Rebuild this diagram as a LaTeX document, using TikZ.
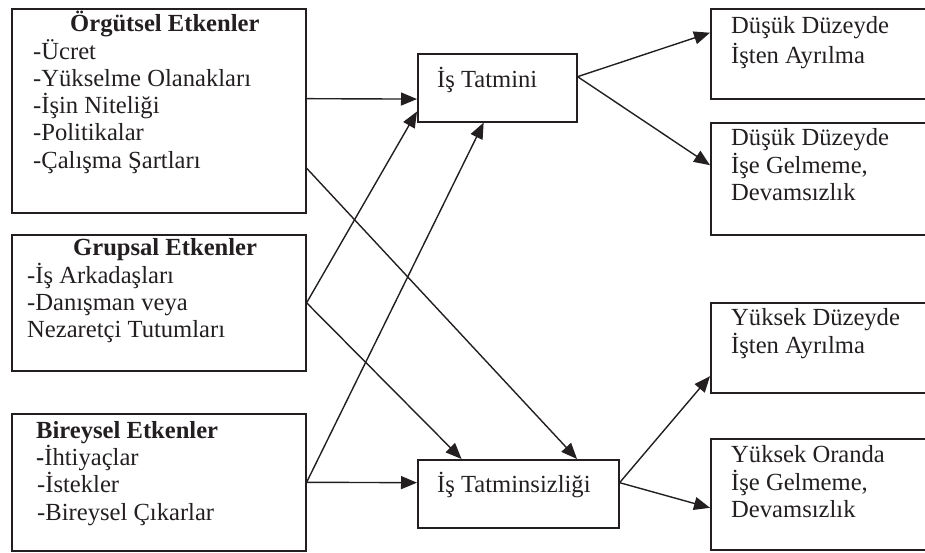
\documentclass[tikz,border=0pt]{standalone}
\usepackage{fontspec}
\setmainfont{Liberation Serif}
\usetikzlibrary{arrows.meta,calc}
\definecolor{ink}{HTML}{231F20}
\begin{document}
\begin{tikzpicture}[x=1pt,y=-1pt,
  box/.style={draw=ink,line width=1.6pt,inner sep=0pt,anchor=north west},
  txt/.style={anchor=base west,inner sep=0pt,text=ink,font=\fontsize{24.6}{27}\selectfont},
  hd/.style={txt,font=\fontsize{24.6}{27}\selectfont\bfseries},
  conn/.style={draw=ink,line width=1.4pt,-{Triangle[length=16pt,width=13pt]}}]
\useasboundingbox (0,0) rectangle (925,552);

% factor boxes on the left
\node[box,minimum width=294pt,minimum height=204pt] (org) at (11,8) {};
\node[box,minimum width=294pt,minimum height=136pt] (grp) at (11,234) {};
\node[box,minimum width=294pt,minimum height=137pt] (bir) at (11,413) {};

% satisfaction boxes in the middle
\node[box,minimum width=159pt,minimum height=68pt] (tat) at (417,53) {};
\node[box,minimum width=201pt,minimum height=68pt] (tsz) at (417,459) {};

% outcome boxes on the right (run off the page edge)
\node[box,minimum width=225pt,minimum height=90pt] (r1) at (710,8) {};
\node[box,minimum width=225pt,minimum height=112pt] (r2) at (710,122) {};
\node[box,minimum width=225pt,minimum height=90pt] (r3) at (710,302) {};
\node[box,minimum width=225pt,minimum height=111pt] (r4) at (710,438) {};

% texts
\node[hd]  (org0) at (70,31)  {Örgütsel Etkenler};
\node[txt] (org1) at (33,59)  {-Ücret};
\node[txt] (org2) at (33,86)  {-Yükselme Olanakları};
\node[txt] (org3) at (33,113) {-İşin Niteliği};
\node[txt] (org4) at (33,140) {-Politikalar};
\node[txt] (org5) at (33,168) {-Çalışma Şartları};

\node[hd]  (grp0) at (73,255) {Grupsal Etkenler};
\node[txt] (grp1) at (27,283) {-İş Arkadaşları};
\node[txt] (grp2) at (27,310) {-Danışman veya};
\node[txt] (grp3) at (27,337) {Nezaretçi Tutumları};

\node[hd]  (bir0) at (36,438) {Bireysel Etkenler};
\node[txt] (bir1) at (36,465) {\textbf{-}İhtiyaçlar};
\node[txt] (bir2) at (37,492) {-İstekler};
\node[txt] (bir3) at (37,520) {-Bireysel Çıkarlar};

\node[txt] (tat0) at (437,87)  {İş Tatmini};
\node[txt] (tsz0) at (437,492) {İş Tatminsizliği};

\node[txt] (r1a) at (731,33)  {Düşük Düzeyde};
\node[txt] (r1b) at (731,63)  {İşten Ayrılma};
\node[txt] (r2a) at (731,145) {Düşük Düzeyde};
\node[txt] (r2b) at (731,173) {İşe Gelmeme,};
\node[txt] (r2c) at (731,200) {Devamsızlık};
\node[txt] (r3a) at (731,325) {Yüksek Düzeyde};
\node[txt] (r3b) at (731,353) {İşten Ayrılma};
\node[txt] (r4a) at (731,462) {Yüksek Oranda};
\node[txt] (r4b) at (731,490) {İşe Gelmeme,};
\node[txt] (r4c) at (731,517) {Devamsızlık};

% connectors: factors to satisfaction / dissatisfaction
\draw[conn] ($(org.north east)!0.441!(org.south east)$) -- ($(tat.north west)!0.662!(tat.south west)$);
\draw[conn] ($(org.north east)!0.779!(org.south east)$) -- ($(tsz.north west)!0.79!(tsz.north east)$);
\draw[conn] (grp.east) -- ($(tat.north west)!0.84!(tat.south west)$);
\draw[conn] (grp.east) -- ($(tsz.north west)!0.22!(tsz.north east)$);
\draw[conn] (bir.east) -- ($(tsz.north west)!0.34!(tsz.south west)$);
\draw[conn] (bir.east) -- ($(tat.south west)!0.415!(tat.south east)$);

% connectors: satisfaction / dissatisfaction to outcomes
\draw[conn] ($(tat.north east)!0.34!(tat.south east)$) -- ($(r1.north west)!0.27!(r1.south west)$);
\draw[conn] ($(tat.north east)!0.34!(tat.south east)$) -- ($(r2.north west)!0.38!(r2.south west)$);
\draw[conn] ($(tsz.north east)!0.34!(tsz.south east)$) -- ($(r3.north west)!0.81!(r3.south west)$);
\draw[conn] ($(tsz.north east)!0.34!(tsz.south east)$) -- ($(r4.north west)!0.62!(r4.south west)$);
\end{tikzpicture}
\end{document}
